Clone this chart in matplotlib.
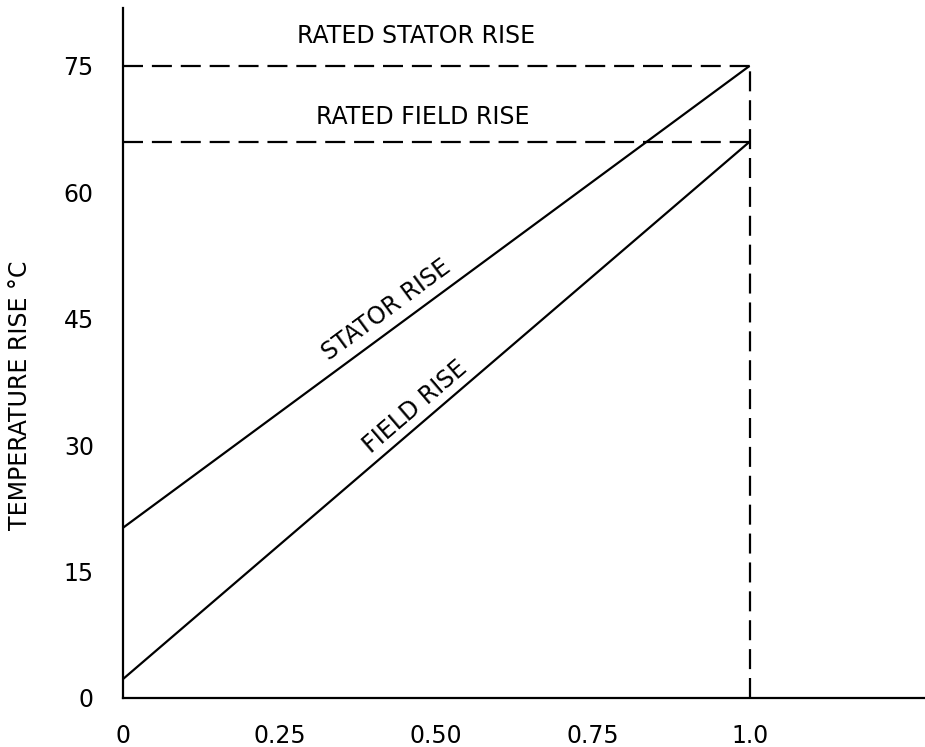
import numpy as np
import matplotlib
matplotlib.use("Agg")
import matplotlib.pyplot as plt

# load fraction vs temperature rise (deg C)
load = [0.0, 1.0]
stator_rise = [20.2, 75.0]
field_rise = [2.25, 66.0]
rated_stator = 75.0
rated_field = 66.0

x_ticks = [0, 0.25, 0.5, 0.75, 1.0]
x_tick_labels = ['0', '0.25', '0.50', '0.75', '1.0']
y_ticks = [0, 15, 30, 45, 60, 75]
y_tick_labels = ['0', '15', '30', '45', '60', '75']

plt.rcParams['font.family'] = ['DejaVu Sans']
fs = 17

fig = plt.figure(figsize=(9.25, 7.47), dpi=100)
ax = fig.add_axes([0.133, 0.0656, 0.867, 0.924])

lw = 1.6
dash = (0, (9.0, 4.0))

ax.plot(load, stator_rise, color='black', lw=lw, solid_capstyle='butt')
ax.plot(load, field_rise, color='black', lw=lw, solid_capstyle='butt')

# rated rise limits
ax.plot([0, 1.0], [rated_stator, rated_stator], color='black', lw=lw, linestyle=dash)
ax.plot([0, 1.0], [rated_field, rated_field], color='black', lw=lw, linestyle=dash)
ax.plot([1.0, 1.0], [0, rated_stator], color='black', lw=lw, linestyle=dash)

ax.set_xlim(0, 1.28)
ax.set_ylim(0, 81.9)

for s in ['top', 'right']:
    ax.spines[s].set_visible(False)
for s in ['left', 'bottom']:
    ax.spines[s].set_linewidth(1.6)

ax.set_xticks(x_ticks)
ax.set_xticklabels(x_tick_labels)
ax.set_yticks(y_ticks)
ax.set_yticklabels(y_tick_labels)
ax.tick_params(axis='both', length=0, labelsize=fs)
ax.tick_params(axis='x', pad=19)
ax.tick_params(axis='y', pad=21)

ax.text(0.467, 78.5, 'RATED STATOR RISE', ha='center', va='center', fontsize=fs)
ax.text(0.478, 68.9, 'RATED FIELD RISE', ha='center', va='center', fontsize=fs)

# labels along the lines
def slope_angle(x, y):
    return np.degrees(np.arctan2(y[1] - y[0], x[1] - x[0]))

ax.text(0.421, 46.0, 'STATOR RISE', ha='center', va='center', fontsize=fs,
        rotation=slope_angle(load, stator_rise), rotation_mode='anchor',
        transform_rotates_text=True)
ax.text(0.466, 34.5, 'FIELD RISE', ha='center', va='center', fontsize=fs,
        rotation=slope_angle(load, field_rise), rotation_mode='anchor',
        transform_rotates_text=True)

ax.text(-0.128, 0.439, 'TEMPERATURE RISE °C', transform=ax.transAxes,
        ha='center', va='center', rotation=90, fontsize=fs)

plt.savefig('out.png', dpi=100)
